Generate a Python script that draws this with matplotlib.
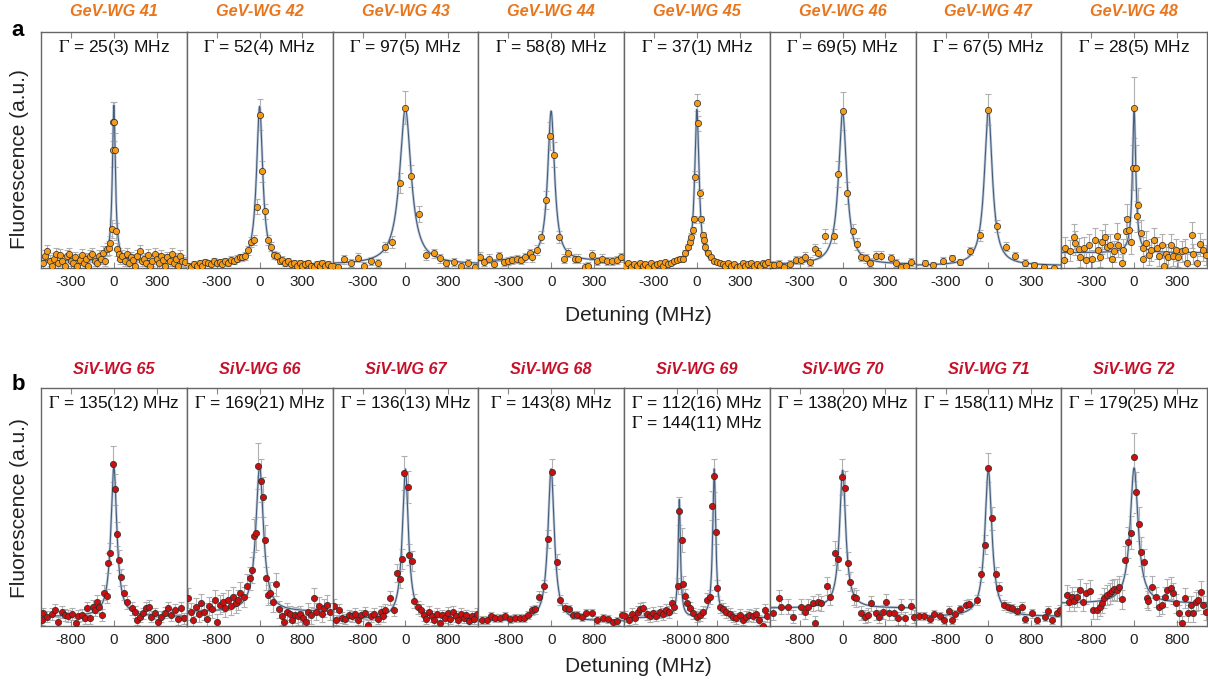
import numpy as np
import matplotlib
matplotlib.use('Agg')
import matplotlib.pyplot as plt

plt.rcParams['font.family'] = ['Liberation Sans', 'DejaVu Sans']
plt.rcParams['mathtext.fontset'] = 'stix'
plt.rcParams['axes.unicode_minus'] = False

# ---------------- GeV row (a) ----------------
gev_names = ['GeV-WG 41', 'GeV-WG 42', 'GeV-WG 43', 'GeV-WG 44',
             'GeV-WG 45', 'GeV-WG 46', 'GeV-WG 47', 'GeV-WG 48']
gev_gamma = [25, 52, 97, 58, 37, 69, 67, 28]
gev_gamma_unc = [3, 4, 5, 8, 1, 5, 5, 5]
gev_amp = [0.66, 0.67, 0.66, 0.635, 0.66, 0.645, 0.66, 0.605]
gev_bg = [0.03, 0.015, 0.015, 0.03, 0.012, 0.015, 0.01, 0.065]
gev_err_base = [0.02, 0.012, 0.015, 0.015, 0.008, 0.015, 0.012, 0.035]
gev_err_rel = [0.1, 0.08, 0.08, 0.08, 0.04, 0.1, 0.08, 0.14]

gev41_x = [-495, -480, -465, -450, -435, -420, -405, -390, -375, -360,
           -345, -330, -315, -300, -285, -270, -255, -240, -225, -210,
           -195, -180, -165, -150, -135, -120, -105, -90, -75, -60,
           -45, -35, -25, -15, -8, -3, 3, 8, 15, 25,
           35, 45, 60, 75, 90, 105, 120, 135, 150, 165,
           180, 195, 210, 225, 240, 255, 270, 285, 300, 315,
           330, 345, 360, 375, 390, 405, 420, 435, 450, 465,
           480, 495]
gev41_y = [0.02, 0.05, 0.07, 0.03, 0.01, 0.04, 0.06, 0.02, 0.055, 0.03,
           0.01, 0.05, 0.06, 0.03, 0.02, 0.045, 0.01, 0.035, 0.055, 0.02,
           0.04, 0.01, 0.05, 0.06, 0.03, 0.02, 0.05, 0.04, 0.065, 0.03,
           0.08, 0.085, 0.105, 0.165, 0.50, 0.62, 0.62, 0.50, 0.155, 0.08,
           0.06, 0.04, 0.05, 0.03, 0.06, 0.02, 0.045, 0.035, 0.01, 0.05,
           0.07, 0.03, 0.04, 0.02, 0.055, 0.01, 0.03, 0.06, 0.04, 0.02,
           0.05, 0.035, 0.01, 0.045, 0.03, 0.06, 0.02, 0.04, 0.01, 0.05,
           0.03, 0.025]

gev42_x = [-500, -480, -460, -440, -420, -400, -380, -360, -340, -320,
           -300, -280, -260, -240, -220, -200, -180, -160, -140, -120,
           -100, -80, -60, -40, -20, 0, 20, 40, 60, 80,
           100, 120, 140, 160, 180, 200, 220, 240, 260, 280,
           300, 320, 340, 360, 380, 400, 420, 440, 460, 480,
           500]
gev42_y = [0.01, 0.005, 0.015, 0.01, 0.02, 0.01, 0.025, 0.02, 0.015, 0.03,
           0.02, 0.025, 0.015, 0.03, 0.02, 0.035, 0.03, 0.04, 0.045, 0.045,
           0.05, 0.075, 0.11, 0.12, 0.26, 0.65, 0.41, 0.24, 0.12, 0.09,
           0.055, 0.05, 0.03, 0.035, 0.02, 0.03, 0.015, 0.02, 0.01, 0.02,
           0.01, 0.015, 0.02, 0.01, 0.005, 0.015, 0.01, 0.02, 0.01, 0.015,
           0.01]

gev43_x = [-505, -470, -427, -378, -331, -287, -238, -191, -145, -93,
           -40, 0, 42, 96, 147, 198, 240, 287, 343, 389,
           436, 489]
gev43_y = [0.008, 0.003, 0.037, 0.02, 0.044, 0.01, 0.031, 0.02, 0.088, 0.11,
           0.36, 0.68, 0.39, 0.23, 0.055, 0.062, 0.041, 0.02, 0.027, 0.008,
           0.02, 0.003]

gev44_x = [-496, -468, -433, -403, -368, -333, -300, -275, -240, -210,
           -182, -147, -135, -100, -72, -37, -7, 23, 56, 93,
           121, 168, 191, 238, 261, 289, 319, 354, 389, 424,
           459, 489]
gev44_y = [0.048, 0.027, 0.04, 0.016, 0.05, 0.027, 0.03, 0.034, 0.038, 0.034,
           0.045, 0.062, 0.045, 0.075, 0.13, 0.29, 0.56, 0.48, 0.13, 0.04,
           0.065, 0.04, 0.04, 0.006, 0.01, 0.055, 0.03, 0.04, 0.03, 0.03,
           0.035, 0.045]

gev45_x = [-500, -480, -460, -440, -420, -400, -380, -360, -340, -320,
           -300, -280, -260, -240, -220, -200, -180, -160, -140, -120,
           -100, -80, -60, -50, -40, -30, -20, -10, 0, 10,
           20, 30, 40, 50, 60, 80, 100, 120, 140, 160,
           180, 200, 220, 240, 260, 280, 300, 320, 340, 360,
           380, 400, 420, 440, 460, 480, 500]
gev45_y = [0.01, 0.02, 0.005, 0.015, 0.01, 0.02, 0.01, 0.015, 0.005, 0.02,
           0.01, 0.015, 0.02, 0.01, 0.025, 0.015, 0.02, 0.03, 0.035, 0.04,
           0.04, 0.065, 0.09, 0.11, 0.133, 0.16, 0.206, 0.387, 0.70, 0.613,
           0.316, 0.206, 0.14, 0.12, 0.09, 0.065, 0.045, 0.03, 0.025, 0.02,
           0.015, 0.01, 0.02, 0.01, 0.015, 0.005, 0.01, 0.02, 0.01, 0.015,
           0.02, 0.01, 0.015, 0.01, 0.02, 0.015, 0.025]

gev46_x = [-503, -480, -445, -412, -370, -324, -294, -261, -231, -193,
           -172, -123, -61, -35, 5, 33, 72, 98, 130, 165,
           189, 235, 270, 340, 375, 410, 445, 480]
gev46_y = [0.013, 0.013, 0.017, 0.006, 0.016, 0.034, 0.034, 0.048, 0.027, 0.079,
           0.062, 0.136, 0.136, 0.397, 0.665, 0.316, 0.157, 0.1, 0.048, 0.041,
           0.023, 0.051, 0.051, 0.041, 0.02, 0.006, 0.01, 0.024]

gev47_x = [-447, -387, -317, -254, -196, -130, -61, 0, 61, 121,
           189, 259, 322, 391, 457]
gev47_y = [0.02, 0.013, 0.031, 0.041, 0.025, 0.073, 0.138, 0.67, 0.178, 0.09,
           0.051, 0.023, 0.013, 0.006, 0.0]

gev48_x = [-494, -482, -452, -419, -413, -389, -377, -354, -335, -319,
           -296, -273, -256, -238, -226, -203, -191, -168, -156, -144,
           -121, -110, -86, -75, -58, -47, -33, -23, -9, 2,
           14, 23, 30, 49, 61, 65, 84, 107, 117, 142,
           158, 175, 193, 210, 224, 240, 259, 275, 294, 310,
           333, 356, 368, 403, 415, 438, 461, 484, 505]
gev48_y = [0.034, 0.083, 0.074, 0.133, 0.105, 0.08, 0.048, 0.083, 0.034, 0.097,
           0.037, 0.119, 0.077, 0.048, 0.112, 0.133, 0.09, 0.097, 0.04, 0.07,
           0.136, 0.097, 0.023, 0.077, 0.158, 0.206, 0.16, 0.109, 0.425, 0.68,
           0.425, 0.22, 0.267, 0.148, 0.04, 0.083, 0.105, 0.056, 0.077, 0.119,
           0.083, 0.05, 0.097, 0.008, 0.06, 0.048, 0.097, 0.05, 0.077, 0.045,
           0.07, 0.077, 0.023, 0.14, 0.06, 0.023, 0.10, 0.077, 0.055]

gev_x = [gev41_x, gev42_x, gev43_x, gev44_x, gev45_x, gev46_x, gev47_x, gev48_x]
gev_y = [gev41_y, gev42_y, gev43_y, gev44_y, gev45_y, gev46_y, gev47_y, gev48_y]

# ---------------- SiV row (b) ----------------
siv_names = ['SiV-WG 65', 'SiV-WG 66', 'SiV-WG 67', 'SiV-WG 68',
             'SiV-WG 69', 'SiV-WG 70', 'SiV-WG 71', 'SiV-WG 72']
siv_center = [[0], [0], [0], [0], [-700, 690], [0], [0], [0]]
siv_gamma = [[135], [169], [136], [143], [112, 144], [138], [158], [179]]
siv_gamma_unc = [[12], [21], [13], [8], [16, 11], [20], [11], [25]]
siv_amp = [[0.63], [0.61], [0.63], [0.64], [0.495, 0.625], [0.58], [0.615], [0.57]]
siv_bg = [0.04, 0.06, 0.03, 0.02, 0.035, 0.075, 0.04, 0.095]
siv_xlim = [1360, 1360, 1360, 1360, 2900, 1360, 1360, 1360]
siv_err_base = [0.02, 0.03, 0.02, 0.015, 0.02, 0.025, 0.015, 0.03]
siv_err_rel = [0.08, 0.1, 0.08, 0.06, 0.08, 0.08, 0.07, 0.1]

siv65_x = [-1340, -1314, -1252, -1159, -1097, -1035, -973, -911, -849, -787,
           -707, -663, -601, -539, -496, -446, -397, -353, -310, -273,
           -229, -186, -136, -110, -74, -12, 25, 50, 99, 136,
           186, 236, 329, 391, 434, 484, 546, 608, 657, 701,
           763, 825, 887, 949, 1011, 1073, 1135, 1197, 1259, 1302]
siv65_y = [0.025, 0.053, 0.039, 0.05, 0.067, 0.018, 0.06, 0.046, 0.042, 0.05,
           0.011, 0.042, 0.046, 0.032, 0.074, 0.032, 0.081, 0.067, 0.102, 0.081,
           0.046, 0.14, 0.125, 0.266, 0.306, 0.68, 0.574, 0.386, 0.277, 0.205,
           0.14, 0.10, 0.074, 0.06, 0.025, 0.039, 0.053, 0.074, 0.081, 0.039,
           0.053, 0.018, 0.039, 0.056, 0.074, 0.046, 0.067, 0.028, 0.074, 0.032]

siv66_x = [-1330, -1290, -1240, -1190, -1140, -1090, -1040, -990, -940, -890,
           -840, -790, -740, -690, -640, -590, -540, -490, -440, -400,
           -360, -300, -236, -180, -136, -105, -62, -31, 19, 62,
           93, 124, 160, 198, 250, 310, 360, 410, 460, 510,
           560, 610, 660, 710, 760, 810, 860, 910, 960, 1010,
           1060, 1110, 1160, 1210, 1260, 1310]
siv66_y = [0.116, 0.06, 0.025, 0.08, 0.05, 0.095, 0.06, 0.03, 0.085, 0.07,
           0.11, 0.018, 0.09, 0.1, 0.075, 0.11, 0.085, 0.12, 0.095, 0.11,
           0.14, 0.12, 0.17, 0.2, 0.235, 0.38, 0.39, 0.672, 0.61, 0.54,
           0.36, 0.20, 0.13, 0.14, 0.10, 0.175, 0.07, 0.04, 0.018, 0.06,
           0.05, 0.025, 0.046, 0.04, 0.05, 0.035, 0.018, 0.06, 0.045, 0.116,
           0.06, 0.085, 0.05, 0.075, 0.09, 0.06]

siv67_x = [-1340, -1300, -1240, -1180, -1120, -1060, -1000, -940, -880, -820,
           -760, -700, -640, -580, -520, -460, -420, -372, -279, -217,
           -155, -105, -62, -19, 43, 74, 124, 167, 229, 291,
           340, 390, 440, 490, 540, 590, 640, 690, 740, 790,
           840, 890, 940, 990, 1040, 1090, 1140, 1190, 1240, 1290,
           1340]
siv67_y = [0.085, 0.025, 0.067, 0.035, 0.03, 0.045, 0.04, 0.05, 0.025, 0.045,
           0.055, 0.006, 0.04, 0.05, 0.03, 0.06, 0.04, 0.067, 0.116, 0.067,
           0.224, 0.197, 0.28, 0.642, 0.585, 0.30, 0.273, 0.106, 0.078, 0.067,
           0.045, 0.03, 0.06, 0.04, 0.025, 0.05, 0.011, 0.045, 0.035, 0.055,
           0.03, 0.06, 0.04, 0.025, 0.05, 0.035, 0.045, 0.02, 0.04, 0.03,
           0.05]

siv68_x = [-1290, -1200, -1116, -1042, -950, -856, -760, -670, -590, -515,
           -440, -366, -300, -217, -136, -50, 19, 105, 167, 260,
           329, 415, 490, 570, 651, 756, 849, 961, 1066, 1159,
           1234, 1330]
siv68_y = [0.025, 0.025, 0.042, 0.035, 0.035, 0.042, 0.028, 0.035, 0.035, 0.035,
           0.046, 0.067, 0.07, 0.123, 0.168, 0.365, 0.648, 0.27, 0.109, 0.077,
           0.07, 0.046, 0.046, 0.039, 0.053, 0.053, 0.025, 0.035, 0.03, 0.015,
           0.02, 0.046]

siv69_x = [-2850, -2720, -2590, -2460, -2330, -2257, -2130, -2000, -1870, -1740,
           -1610, -1480, -1350, -1220, -1090, -1003, -911, -766, -700, -607,
           -541, -462, -383, -277, -145, -13, 119, 251, 409, 515,
           607, 686, 752, 818, 911, 1043, 1175, 1310, 1440, 1570,
           1700, 1830, 1960, 2090, 2220, 2350, 2480, 2627, 2693, 2800]
siv69_y = [0.04, 0.025, 0.05, 0.032, 0.06, 0.07, 0.074, 0.05, 0.04, 0.055,
           0.043, 0.06, 0.05, 0.067, 0.06, 0.095, 0.081, 0.168, 0.484, 0.361,
           0.176, 0.126, 0.095, 0.074, 0.053, 0.039, 0.046, 0.06, 0.109, 0.123,
           0.505, 0.632, 0.396, 0.161, 0.081, 0.07, 0.06, 0.05, 0.039, 0.032,
           0.046, 0.025, 0.039, 0.046, 0.042, 0.05, 0.025, 0.0, 0.067, 0.04]

siv70_x = [-1296, -1190, -1141, -1017, -924, -781, -707, -645, -552, -521,
           -459, -397, -285, -229, -143, -81, -6, 43, 99, 143,
           211, 254, 347, 409, 471, 533, 614, 688, 750, 812,
           874, 967, 1029, 1091, 1172, 1277, 1339]
siv70_y = [0.053, 0.116, 0.081, 0.081, 0.039, 0.081, 0.06, 0.081, 0.095, 0.014,
           0.102, 0.095, 0.168, 0.123, 0.308, 0.282, 0.627, 0.581, 0.266, 0.186,
           0.123, 0.116, 0.056, 0.039, 0.046, 0.095, 0.053, 0.039, 0.06, 0.102,
           0.053, 0.053, 0.032, 0.081, 0.032, 0.083, 0.039]

siv71_x = [-1296, -1203, -1091, -1017, -905, -831, -738, -676, -614, -521,
           -422, -353, -205, -143, -68, 0, 68, 143, 205, 285,
           360, 440, 533, 626, 688, 812, 905, 1060, 1122, 1184,
           1277, 1339]
siv71_y = [0.042, 0.042, 0.028, 0.05, 0.042, 0.025, 0.064, 0.025, 0.05, 0.07,
           0.088, 0.092, 0.109, 0.217, 0.342, 0.665, 0.452, 0.217, 0.158, 0.088,
           0.081, 0.074, 0.064, 0.081, 0.028, 0.053, 0.025, 0.039, 0.064, 0.025,
           0.056, 0.067]

siv72_x = [-1252, -1209, -1159, -1128, -1066, -1004, -955, -893, -818, -769,
           -694, -645, -601, -558, -508, -459, -415, -372, -322, -291,
           -229, -161, -105, -62, 0, 43, 87, 130, 186, 236,
           267, 329, 409, 471, 515, 577, 620, 682, 732, 781,
           843, 887, 949, 1011, 1054, 1104, 1153, 1197, 1246, 1290,
           1339]
siv72_y = [0.13, 0.102, 0.122, 0.105, 0.123, 0.151, 0.102, 0.137, 0.148, 0.067,
           0.067, 0.081, 0.095, 0.116, 0.13, 0.137, 0.148, 0.154, 0.151, 0.165,
           0.112, 0.277, 0.352, 0.392, 0.709, 0.562, 0.429, 0.312, 0.268, 0.119,
           0.107, 0.163, 0.123, 0.078, 0.088, 0.123, 0.151, 0.158, 0.137, 0.095,
           0.053, 0.011, 0.119, 0.053, 0.088, 0.053, 0.102, 0.109, 0.144, 0.088,
           0.06]

siv_x = [siv65_x, siv66_x, siv67_x, siv68_x, siv69_x, siv70_x, siv71_x, siv72_x]
siv_y = [siv65_y, siv66_y, siv67_y, siv68_y, siv69_y, siv70_y, siv71_y, siv72_y]

gev_ticks = [-300, 0, 300]
siv_ticks = [-800, 0, 800]

ORANGE_T = '#e8761e'
RED_T = '#c5102a'
ORANGE_M = '#f59a17'
RED_M = '#c81010'


def lorentz(x, x0, g, a):
    return a * (g / 2.0) ** 2 / ((x - x0) ** 2 + (g / 2.0) ** 2)


W, H = 1208, 687
fig = plt.figure(figsize=(W / 100, H / 100), dpi=100)

left0 = 41
pw = 145.75


def make_ax(i, top, bot):
    return fig.add_axes([(left0 + i * pw) / W, 1 - bot / H, pw / W, (bot - top) / H])


def style(ax, xl, ticks):
    ax.set_xlim(-xl, xl)
    ax.set_ylim(0, 1)
    ax.set_yticks([])
    ax.set_xticks(ticks)
    ax.set_xticklabels([str(t) for t in ticks])
    ax.tick_params(axis='x', direction='in', top=True, length=4, width=0.8,
                   color='#888888', labelsize=11, pad=5, labelcolor='#222222')
    for s in ax.spines.values():
        s.set_color('#666666')
        s.set_linewidth(1.0)


def draw(ax, x, y, eb, er, face, centers, gammas, amps, bg, xl):
    x = np.array(x)
    y = np.array(y)
    err = eb + er * y
    ax.errorbar(x, y, yerr=err, fmt='none', ecolor='#b0b0b0', elinewidth=0.8,
                capsize=2.2, capthick=0.8, zorder=1)
    xf = np.linspace(-xl, xl, 3000)
    yf = bg + sum(lorentz(xf, c, g, a) for c, g, a in zip(centers, gammas, amps))
    ax.plot(xf, yf, color='#c3cedb', lw=1.9, zorder=2)
    ax.plot(xf, yf, color='#455d7c', lw=0.8, zorder=2)
    ax.plot(x, y, 'o', ms=4.5, mfc=face, mec='#2a2a2a', mew=0.5, zorder=3)


# top row
for i in range(8):
    ax = make_ax(i, 32, 268)
    style(ax, 510, gev_ticks)
    draw(ax, gev_x[i], gev_y[i], gev_err_base[i], gev_err_rel[i], ORANGE_M,
         [0], [gev_gamma[i]], [gev_amp[i]], gev_bg[i], 510)
    ax.text(0.5, 0.936, r'$\mathrm{\Gamma}$ = %d(%d) MHz' % (gev_gamma[i], gev_gamma_unc[i]),
            transform=ax.transAxes, ha='center', va='center', fontsize=12.5,
            color='#111111')
    ax.text(0.5, 1 + 20 / 236, gev_names[i], transform=ax.transAxes, ha='center',
            va='center', fontsize=11.7, fontweight='bold', fontstyle='italic',
            color=ORANGE_T)

# bottom row
for i in range(8):
    ax = make_ax(i, 388, 626)
    style(ax, siv_xlim[i], siv_ticks)
    draw(ax, siv_x[i], siv_y[i], siv_err_base[i], siv_err_rel[i], RED_M,
         siv_center[i], siv_gamma[i], siv_amp[i], siv_bg[i], siv_xlim[i])
    lines = [r'$\mathrm{\Gamma}$ = %d(%d) MHz' % (g, u)
             for g, u in zip(siv_gamma[i], siv_gamma_unc[i])]
    for k, line in enumerate(lines):
        ax.text(0.5, 0.933 - k * 20 / 238, line, transform=ax.transAxes,
                ha='center', va='center', fontsize=12.5, color='#111111')
    ax.text(0.5, 1 + 19 / 238, siv_names[i], transform=ax.transAxes, ha='center',
            va='center', fontsize=11.7, fontweight='bold', fontstyle='italic',
            color=RED_T)

# shared labels
for yc in (315, 667):
    fig.text(638 / W, 1 - yc / H, 'Detuning (MHz)', ha='center', va='center',
             fontsize=15, color='#222222')
for yc in (159, 508):
    fig.text(20 / W, 1 - yc / H, 'Fluorescence (a.u.)', ha='center', va='center',
             rotation=90, fontsize=15, color='#222222')
fig.text(18 / W, 1 - 30 / H, 'a', ha='center', va='center', fontsize=16,
         fontweight='bold')
fig.text(18 / W, 1 - 385 / H, 'b', ha='center', va='center', fontsize=16,
         fontweight='bold')

fig.savefig('out.png', dpi=100)
